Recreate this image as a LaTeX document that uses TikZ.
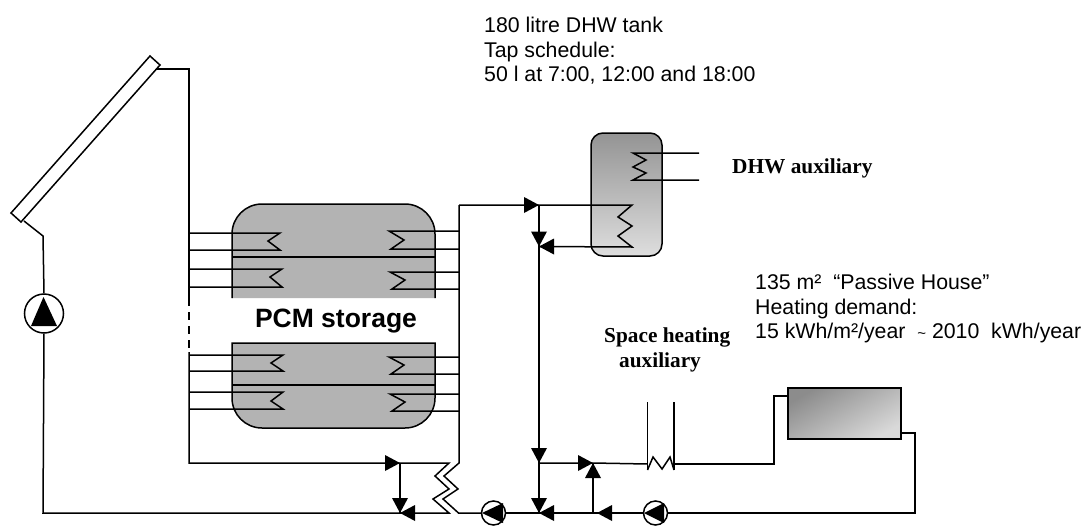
\documentclass[tikz,border=0pt]{standalone}
\usepackage{fontspec}
\setmainfont{Liberation Sans}
\newfontfamily\serifbold[BoldFont={Liberation Serif Bold}]{Liberation Serif}
\usetikzlibrary{calc}
\definecolor{pcmgray}{HTML}{B3B3B3}
\tikzset{
  pipe/.style={draw=black,line width=1.5pt,line join=miter},
  pumpnode/.style={circle,draw=black,fill=white,line width=1.5pt,inner sep=0pt},
  flowhead/.pic={\fill[black] (0,0) -- (-15,-8) -- (-15,8) -- cycle;},
  sanslabel/.style={inner sep=0pt,align=left,font=\fontsize{21.3}{24.5}\selectfont},
  seriflabel/.style={inner sep=0pt,align=left,font=\fontsize{21.3}{25}\serifbold\bfseries\selectfont},
}
% left coil: y1, ymid, y2, tip x
\newcommand{\lcoil}[4]{\draw[pipe] (hl |- 0,#1) -- (#4,#1) -- ($(#4,#2)+(-12,0)$) -- (#4,#3) -- (hl |- 0,#3);}
\newcommand{\rcoil}[4]{\draw[pipe] (hr |- 0,#1) -- (#4,#1) -- ($(#4,#2)+(15,0)$) -- ($(#4,#3)+(2,0)$) -- (hr |- 0,#3);}
\begin{document}
\begin{tikzpicture}[x=1pt,y=-1pt]
\useasboundingbox (0,0) rectangle (1086,525);
% named junctions
\coordinate (hl) at (189,0);
\coordinate (hr) at (459,0);
\coordinate (colIn) at (24,221);
\coordinate (colOut) at (156,69);
\coordinate (colBend) at (43,236);
\coordinate (corner) at (43,513);
\coordinate (hlTop) at (189,69);
\coordinate (hlDashA) at (189,298);
\coordinate (hlDashB) at (189,352);
\coordinate (hlBot) at (189,463);
\coordinate (hrTop) at (459,205);
\coordinate (hrBot) at (459,463);
\coordinate (jA) at (539,205);
\coordinate (jB) at (539,246.5);
\coordinate (jC) at (539,463);
\coordinate (jD) at (539,513);
\coordinate (jE) at (593,463);
\coordinate (jF) at (593,513);
\coordinate (jG) at (400,463);
\coordinate (jH) at (400,513);
\coordinate (hx1) at (449,463);
\coordinate (hx2) at (449,513);
\coordinate (hx3) at (458.5,513);
\coordinate (auxL) at (647.5,464);
\coordinate (auxR) at (674,464);
\coordinate (radIn) at (774,464);
\coordinate (radInB) at (774,396);
\coordinate (radOut) at (915,433);
\coordinate (radOutB) at (915,513);
% PCM storage
\draw[pipe,fill=pcmgray] (232,298) [rounded corners=30pt] -- (232,204) -- (435,204) [sharp corners] -- (435,298);
\draw[pipe,fill=pcmgray] (232,343) [rounded corners=30pt] -- (232,428) -- (435,428) [sharp corners] -- (435,343) -- cycle;
\draw[pipe] (232,257) -- (435,257);
\draw[pipe] (232,385) -- (435,385);
\node[inner sep=0pt,anchor=base,font=\fontsize{26.5}{30}\bfseries\selectfont] (pcm) at (336,327) {PCM storage};
% coils in PCM storage
\lcoil{233}{241}{250}{280}
\lcoil{269}{277}{287}{282}
\lcoil{355}{363}{371}{283}
\lcoil{392}{401}{409}{283}
\rcoil{231}{240}{249}{389}
\rcoil{272}{280}{289}{390}
\rcoil{357}{365}{374}{389}
\rcoil{394}{402}{411}{390}
% DHW tank and radiator
\node[draw=black,line width=1.5pt,rounded corners=12pt,top color=black!42,bottom color=black!13,minimum width=71pt,minimum height=123pt,inner sep=0pt] (tank) at (626.5,194.5) {};
\node[draw=black,line width=1.5pt,shading=axis,top color=black!45,bottom color=black!15,shading angle=30,minimum width=113pt,minimum height=51pt,inner sep=0pt] (rad) at (844.5,413.5) {};
% pumps
\node[pumpnode,minimum size=39pt] (pumpA) at (44,313.5) {};
\node[pumpnode,minimum size=24pt] (pumpB) at (493.5,513) {};
\node[pumpnode,minimum size=24pt] (pumpC) at (655.5,513) {};
% solar collector
\draw[pipe] (150,56) -- (160,65) -- (21,222) -- (11,213) -- cycle;
% pipes
\draw[pipe] (colOut) -- (hlTop) -- (hlDashA);
\draw[pipe,dash pattern=on 8pt off 6pt] (hlDashA) -- (hlDashB);
\draw[pipe] (hlDashB) -- (hlBot) -- (jG) -- (hx1) -- (435,476) -- (449,489) -- (433,499) -- (hx2) -- (jH) -- (corner) -- (pumpA.south);
\draw[pipe] (pumpA.north) -- (colBend) -- (colIn);
\draw[pipe] (jG) -- (jH);
\draw[pipe] (hrTop) -- (hrBot) -- (444,476) -- (458,489) -- (443,499) -- (hx3) -- (pumpB);
\draw[pipe] (hrTop) -- (jA) -- (632,205) -- (618,217) -- (632,226) -- (618,236) -- (632,247) -- (jB);
\draw[pipe] (jA) -- (jB) -- (jC) -- (jD);
\draw[pipe] (pumpB) -- (jD) -- (jF) -- (pumpC);
\draw[pipe] (jC) -- (jE) -- (auxL);
\draw[pipe] (jF) -- (jE);
\draw[pipe] (647.5,402) -- (auxL) -- (647.5,470);
\draw[pipe] (674,402) -- (auxR) -- (674,470);
\draw[pipe] (647.5,470) -- (653,457) -- (662,469) -- (670,457) -- (674,470);
\draw[pipe] (auxR) -- (radIn) -- (radInB) -- (radInB -| rad.west);
\draw[pipe] (radOut -| rad.east) -- (radOut) -- (radOutB) -- (pumpC);
% coil in top of DHW tank
\draw[pipe] (699,153) -- (633,153) -- (646,160) -- (633,167) -- (646,173) -- (633,180) -- (699,180);
% pump triangles
\fill[black] (43.5,297) -- (31,326) -- (57,326) -- cycle;
\fill[black] (482,513) -- (503,503) -- (503,523) -- cycle;
\fill[black] (644,513) -- (664,503) -- (664,523) -- cycle;
% flow arrowheads
\pic at (jA) {flowhead};
\pic[rotate=270] at (jB) {flowhead};
\pic[rotate=180] at (jB) {flowhead};
\pic[rotate=270] at (jC) {flowhead};
\pic at (jE) {flowhead};
\pic[rotate=90] at (jE) {flowhead};
\pic[rotate=270] at (jD) {flowhead};
\pic[rotate=180] at (jD) {flowhead};
\pic[rotate=180] at (597,513) {flowhead};
\pic at (jG) {flowhead};
\pic[rotate=270] at (jH) {flowhead};
\pic[rotate=180] at (jH) {flowhead};
% labels
\node[sanslabel,anchor=north west] (tankText) at (484,17) {180 litre DHW tank\\Tap schedule:\\50 l at 7:00, 12:00 and 18:00};
\node[sanslabel,anchor=north west] (houseText) at (755,274) {135 m²\ \ “Passive House”\\Heating demand:\\15 kWh/m²/year\ \ {\fontsize{15}{15}\selectfont\textasciitilde}\ 2010\ \ kWh/year};
\node[seriflabel,anchor=base west] (dhwAux) at (732,173) {DHW auxiliary};
\node[seriflabel,anchor=north west] (spaceAux) at (604,328) {Space heating\\\hspace*{15pt}auxiliary};
\end{tikzpicture}
\end{document}
